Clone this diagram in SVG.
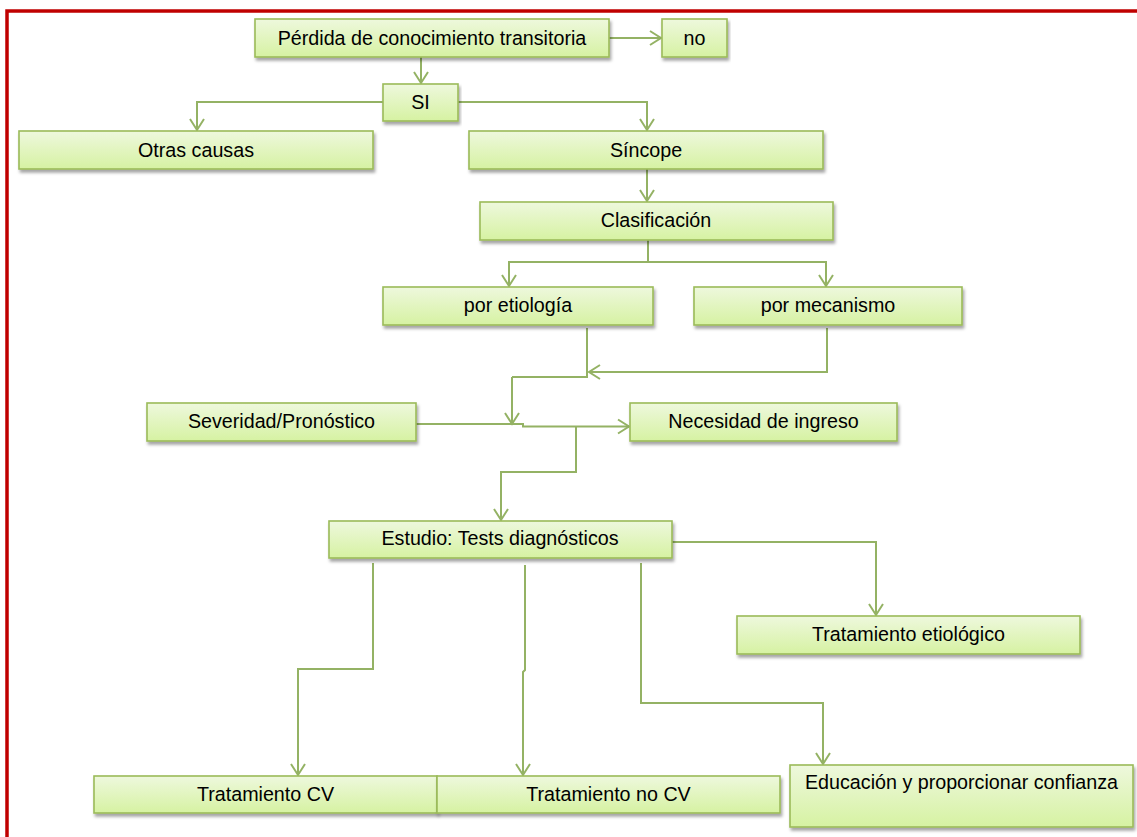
<svg xmlns="http://www.w3.org/2000/svg" width="1137" height="837" viewBox="0 0 1137 837">
<defs>
<linearGradient id="g" x1="0" y1="0" x2="0" y2="1">
<stop offset="0" stop-color="#eef8dd"/>
<stop offset="1" stop-color="#d6f2a2"/>
</linearGradient>
<filter id="sh" x="-5%" y="-20%" width="110%" height="150%">
<feDropShadow dx="1.5" dy="3" stdDeviation="1.8" flood-color="#000" flood-opacity="0.35"/>
</filter>
<marker id="ar" markerUnits="userSpaceOnUse" markerWidth="20" markerHeight="20" viewBox="-14 -10 16 20" refX="0" refY="0" orient="auto">
<path d="M-11,-7 L0,0 L-11,7" fill="none" stroke="#94b264" stroke-width="2"/>
</marker>
<style>
.box rect{fill:url(#g);stroke:#9bbb59;stroke-width:1.6;filter:url(#sh)}
.box text{font-family:"Liberation Sans",Arial,sans-serif;font-size:19.7px;fill:#000;text-anchor:middle}
.c path{fill:none;stroke:#94b264;stroke-width:2}
.c .a{marker-end:url(#ar)}
</style>
</defs>
<rect width="1137" height="837" fill="#fff"/>
<path d="M7,837 V11 H1137" fill="none" stroke="#c00000" stroke-width="3.5"/>
<g id="connectors" class="c">
<path class="a" d="M609,38 H661"/>
<path class="a" d="M421,57 V83"/>
<path class="a" d="M383,102 H197 V130"/>
<path class="a" d="M458,102 H647 V130"/>
<path class="a" d="M647,169 V201"/>
<path d="M648,240 V262"/>
<path class="a" d="M648,262 H509 V286"/>
<path class="a" d="M648,262 H826 V286"/>
<path d="M587,328 V377 H512"/>
<path class="a" d="M512,377 V424"/>
<path class="a" d="M827,328 V372 H589"/>
<path class="a" d="M416,424 H523 V426.5 H629"/>
<path class="a" d="M576,426 V472 H501 V520"/>
<path class="a" d="M672,542 H876 V615"/>
<path class="a" d="M373,563 V669 H298 V775"/>
<path class="a" d="M525,565 V670 L523,672 V775"/>
<path class="a" d="M641,563 V703 H823 V764"/>
</g>
<g id="n1" class="box"><rect x="255" y="19" width="354" height="38"/><text x="432" y="44.5">Pérdida de conocimiento transitoria</text></g>
<g id="n2" class="box"><rect x="662" y="19" width="65" height="38"/><text x="694.5" y="44.5">no</text></g>
<g id="n3" class="box"><rect x="383" y="84" width="75" height="37"/><text x="420.5" y="109">SI</text></g>
<g id="n4" class="box"><rect x="19" y="131" width="354" height="38"/><text x="196" y="156.5">Otras causas</text></g>
<g id="n5" class="box"><rect x="469" y="131" width="354" height="38"/><text x="646" y="156.5">Síncope</text></g>
<g id="n6" class="box"><rect x="480" y="202" width="353" height="38"/><text x="656" y="227">Clasificación</text></g>
<g id="n7" class="box"><rect x="383" y="287" width="270" height="38"/><text x="518" y="312">por etiología</text></g>
<g id="n8" class="box"><rect x="694" y="287" width="268" height="38"/><text x="828" y="312">por mecanismo</text></g>
<g id="n9" class="box"><rect x="147" y="403" width="269" height="38"/><text x="281.5" y="428">Severidad/Pronóstico</text></g>
<g id="n10" class="box"><rect x="630" y="403" width="267" height="38"/><text x="763.5" y="428">Necesidad de ingreso</text></g>
<g id="n11" class="box"><rect x="329" y="521" width="343" height="37"/><text x="500" y="544.5">Estudio: Tests diagnósticos</text></g>
<g id="n12" class="box"><rect x="737" y="616" width="343" height="38"/><text x="908.5" y="641">Tratamiento etiológico</text></g>
<g id="n13" class="box"><rect x="94" y="776" width="343" height="37"/><text x="265.5" y="801">Tratamiento CV</text></g>
<g id="n14" class="box"><rect x="437" y="776" width="343" height="37"/><text x="608.5" y="801">Tratamiento no CV</text></g>
<g id="n15" class="box"><rect x="790" y="765" width="343" height="62"/><text x="961.5" y="789">Educación y proporcionar confianza</text></g>
</svg>
